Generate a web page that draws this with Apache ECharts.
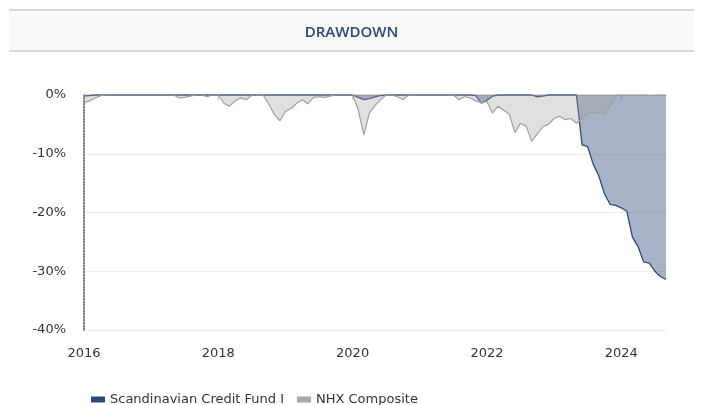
<!DOCTYPE html>
<html>
<head>
<meta charset="utf-8">
<script src="https://cdn.jsdelivr.net/npm/echarts@6/dist/echarts.min.js"></script>
<style>
html,body{margin:0;padding:0;background:#fff;}
#chart{width:703px;height:405px;}
</style>
</head>
<body>
<div id="chart"></div>
<script>
// Monthly categories 2016-01 .. 2024-09
var startYear = 2016, monthCount = 105;
var months = [];
for (var k = 0; k < monthCount; k++) {
  var y = startYear + Math.floor(k / 12), m = (k % 12) + 1;
  months.push(y + '-' + (m < 10 ? '0' + m : m));
}

var seriesNames = ['Scandinavian Credit Fund I', 'NHX Composite'];
var yTicks = [-40, -30, -20, -10, 0];

// Drawdown, %, one row per year
var fundDrawdown = [
  -0.2, -0.1, 0, 0, 0, 0, 0, 0, 0, 0, 0, 0,                              // 2016
  0, 0, 0, 0, 0, 0, 0, 0, 0, 0, 0, 0,                                    // 2017
  0, 0, 0, 0, 0, 0, 0, 0, 0, 0, 0, 0,                                    // 2018
  0, 0, 0, 0, 0, 0, 0, 0, 0, 0, 0, 0,                                    // 2019
  0, -0.4, -0.8, -0.6, -0.3, -0.1, 0, 0, 0, 0, 0, 0,                     // 2020
  0, 0, 0, 0, 0, 0, 0, 0, 0, 0, -0.1, -1.4,                              // 2021
  -0.9, -0.2, 0, 0, 0, 0, 0, 0, 0, -0.3, -0.2, 0,                        // 2022
  0, 0, 0, 0, 0, -8.5, -8.8, -11.8, -13.8, -16.8, -18.6, -18.8,          // 2023
  -19.2, -19.8, -24.2, -25.8, -28.4, -28.6, -30.0, -30.9, -31.4          // 2024
];

var nhxDrawdown = [
  -1.3, -1.0, -0.5, -0.1, 0, 0, 0, 0, 0, 0, 0, 0,                        // 2016
  0, 0, 0, 0, 0, -0.5, -0.4, -0.2, 0, 0, -0.3, 0,                        // 2017
  0, -1.4, -1.9, -1.0, -0.5, -0.8, 0, 0, 0, -1.5, -3.3, -4.4,            // 2018
  -2.8, -2.3, -1.4, -0.8, -1.5, -0.4, -0.3, -0.4, -0.2, 0, 0, 0,         // 2019
  0, -2.5, -6.8, -3.1, -1.8, -0.8, 0, 0, -0.3, -0.8, 0, 0,               // 2020
  0, 0, 0, 0, 0, 0, 0, -0.8, -0.3, -0.5, -1.0, -1.3,                     // 2021
  -1.1, -3.1, -1.9, -2.6, -3.3, -6.4, -4.8, -5.3, -7.9, -6.6, -5.4, -5.0, // 2022
  -4.0, -3.6, -4.2, -4.0, -4.8, -4.0, -3.1, -3.0, -3.0, -3.4, -1.9, 0,   // 2023
  0, 0, 0, 0, 0, -0.1, 0, 0, 0                                           // 2024
];

function isTick(idx) { return idx % 24 === 0; }

var chart = echarts.init(document.getElementById('chart'), null, {renderer: 'canvas'});
var font = 'DejaVu Sans, Verdana, sans-serif';
chart.setOption({
  animation: false,
  backgroundColor: '#ffffff',
  graphic: [
    {type: 'rect', left: 9, top: 9, shape: {width: 685, height: 43}, style: {fill: '#f9f9f9'}, z: -1},
    {type: 'rect', left: 9, top: 9, shape: {width: 685, height: 2}, style: {fill: '#d9d9d9'}},
    {type: 'rect', left: 9, top: 50, shape: {width: 685, height: 2}, style: {fill: '#d9d9d9'}}
  ],
  title: {
    text: 'DRAWDOWN',
    left: 'center',
    top: 20,
    textStyle: {fontFamily: 'Open Sans, sans-serif', fontSize: 15, fontWeight: 600, color: '#2c4772'}
  },
  legend: {
    data: seriesNames,
    left: 86,
    top: 388,
    icon: 'rect',
    itemWidth: 14,
    itemHeight: 6,
    itemGap: 13,
    textStyle: {fontFamily: font, fontSize: 13, color: '#333'}
  },
  grid: {left: 84, right: 37, top: 95, bottom: 75, containLabel: false},
  xAxis: {
    type: 'category',
    data: months,
    boundaryGap: false,
    axisLine: {lineStyle: {color: '#cccccc', width: 1.5}},
    axisTick: {show: true, interval: function (i) { return isTick(i) && i > 0; }, length: 5, lineStyle: {color: '#cccccc'}},
    axisLabel: {
      interval: function (i) { return isTick(i); },
      formatter: function (v) { return v.slice(0, 4); },
      color: '#333', fontFamily: font, fontSize: 13, margin: 17
    },
    splitLine: {show: false}
  },
  yAxis: {
    type: 'value',
    min: yTicks[0],
    max: yTicks[yTicks.length - 1],
    interval: 10,
    axisLine: {show: true, lineStyle: {color: '#555', type: 'dotted', width: 1.5}},
    axisTick: {show: false},
    axisLabel: {formatter: '{value}%', color: '#333', fontFamily: font, fontSize: 13, margin: 18},
    splitLine: {lineStyle: {color: '#eeeeee'}}
  },
  series: [
    {
      name: seriesNames[0],
      type: 'line',
      data: fundDrawdown,
      symbol: 'none',
      z: 2,
      itemStyle: {color: '#2d4a78'},
      lineStyle: {color: '#2d4a78', width: 1.3},
      areaStyle: {color: '#2d4a78', opacity: 0.42}
    },
    {
      name: seriesNames[1],
      type: 'line',
      data: nhxDrawdown,
      symbol: 'none',
      z: 3,
      itemStyle: {color: '#a8a8a8'},
      lineStyle: {color: '#a0a0a0', width: 1.2},
      areaStyle: {color: '#a0a0a0', opacity: 0.33}
    }
  ]
});
</script>
</body>
</html>
